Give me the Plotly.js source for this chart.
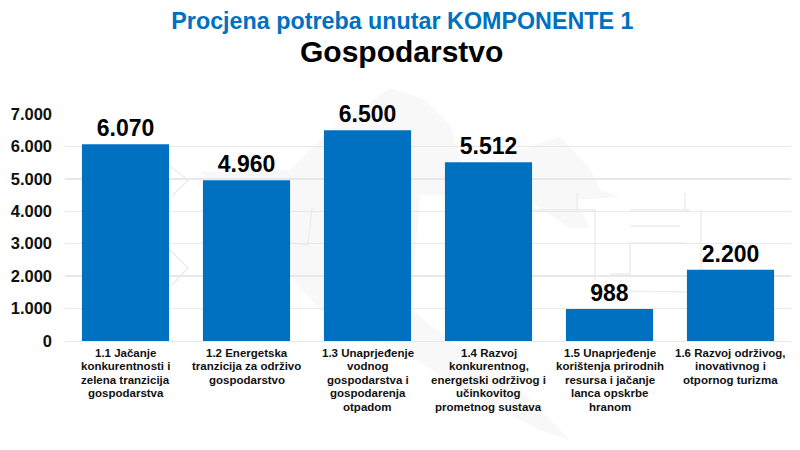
<!DOCTYPE html>
<html><head><meta charset="utf-8">
<script src="https://cdn.plot.ly/plotly-3.0.1.min.js"></script>
<style>html,body{margin:0;padding:0;background:#fff}</style></head>
<body><div id="chart" style="width:800px;height:450px"></div>
<script>
const categories = ["1.1","1.2","1.3","1.4","1.5","1.6"];
const categoryLines = [
 ["1.1 Jačanje","konkurentnosti i","zelena tranzicija","gospodarstva"],
 ["1.2 Energetska","tranzicija za održivo","gospodarstvo"],
 ["1.3 Unaprjeđenje","vodnog","gospodarstva i","gospodarenja","otpadom"],
 ["1.4 Razvoj","konkurentnog,","energetski održivog i","učinkovitog","prometnog sustava"],
 ["1.5 Unaprjeđenje","korištenja prirodnih","resursa i jačanje","lanca opskrbe","hranom"],
 ["1.6 Razvoj održivog,","inovativnog i","otpornog turizma"]];
const values = [6070, 4960, 6500, 5512, 988, 2200];
const valueLabels = ["6.070","4.960","6.500","5.512","988","2.200"];
const yTicks = [0,1000,2000,3000,4000,5000,6000,7000];
const yTickLabels = ["0","1.000","2.000","3.000","4.000","5.000","6.000","7.000"];
const titleText = "Procjena potreba unutar KOMPONENTE 1";
const subtitleText = "Gospodarstvo";
const FONT = '"Liberation Sans", Arial, sans-serif';
const BLUE = '#0070C0';
const M = {l:65,r:9,t:114,b:109};
const annotations = [];
categoryLines.forEach((lines,i)=>lines.forEach((t,j)=>annotations.push({
  text:'<b>'+t+'</b>',xref:'x',yref:'paper',x:i,y:0,xanchor:'center',yanchor:'top',
  yshift:-(5+j*13.4),showarrow:false,borderpad:0,font:{family:FONT,size:11.5,color:'#111'}})));
annotations.push({text:'<b>'+subtitleText+'</b>',xref:'paper',yref:'paper',x:0.5,y:1,xanchor:'center',yanchor:'middle',
  yshift:63,xshift:-27,showarrow:false,font:{family:FONT,size:30,color:'#000'}});
// faint decorative background watermark (page pixels converted to paper space)
const W = 800-M.l-M.r, H = 450-M.t-M.b;
const px = p => 'M'+p.map(([x,y])=>((x-M.l)/W)+','+((450-M.b-y)/H)).join('L');
const wmMap = [[200,172],[290,170],[330,130],[390,88],[425,100],[450,125],[465,175],[520,150],[560,137],[590,168],[600,190],[620,197],[575,200],[590,228],[570,228],[535,205],[470,195],[420,195],[411,310],[450,340],[520,390],[570,440],[540,430],[480,400],[400,350],[330,320],[293,280],[260,215]];
const wmLines = [
 [[595,280],[595,210],[520,210]],[[577,193],[577,210]],[[685,193],[685,210]],[[630,210],[690,210]],
 [[701,210],[701,292],[595,291]],[[630,226],[680,226]],[[610,274],[630,274],[630,243],[683,243]],
 [[155,178],[168,165],[188,180],[172,196]],[[158,265],[170,250],[188,268],[172,285]],
 [[270,203],[270,240],[308,245],[312,208]]];
const shapes = [{type:'path',xref:'paper',yref:'paper',layer:'below',path:px(wmMap)+'Z',fillcolor:'#F8F8F8',line:{width:0}}]
 .concat(wmLines.map(l=>({type:'path',xref:'paper',yref:'paper',layer:'below',path:px(l),line:{color:'#EDEDED',width:1.5}})));
Plotly.newPlot('chart',[{
  type:'bar', x:categories.map((c,i)=>i), y:values, text:valueLabels, textposition:'outside', cliponaxis:false,
  textfont:{family:FONT,size:23,color:'#000',weight:'bold'}, marker:{color:BLUE}, width:0.72, hoverinfo:'skip'
}],{
  width:800,height:450,paper_bgcolor:'#fff',plot_bgcolor:'rgba(0,0,0,0)',showlegend:false,
  margin:M,
  font:{family:FONT,color:'#000'},
  title:{text:'<b>'+titleText+'</b>',xref:'container',x:0.503,xanchor:'center',y:0.953,yref:'container',yanchor:'middle',font:{family:FONT,size:23.3,color:BLUE}},
  xaxis:{type:'category',showticklabels:false,showline:true,linecolor:'#E8E8E8',linewidth:1,ticks:''},
  yaxis:{range:[0,7000],tickmode:'array',tickvals:yTicks,ticktext:yTickLabels,ticklabelstandoff:12,tickfont:{family:FONT,size:16.5,color:'#111',weight:'bold'},gridcolor:'#E8E8E8',gridwidth:1.5,zeroline:false,ticks:''},
  annotations:annotations, shapes:shapes
},{displayModeBar:false,staticPlot:true});
</script></body></html>
